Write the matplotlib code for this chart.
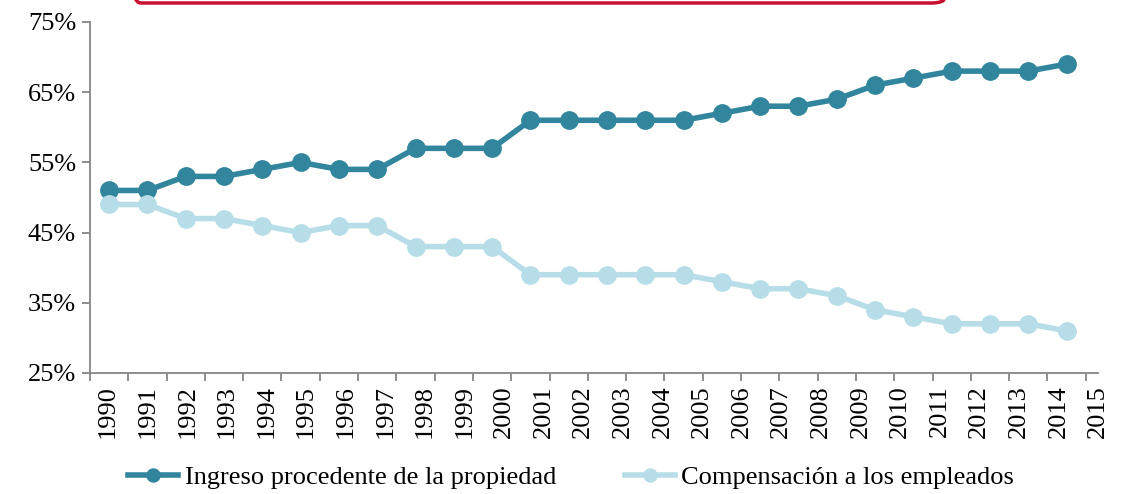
import numpy as np
import matplotlib
matplotlib.use('Agg')
import matplotlib.pyplot as plt
from matplotlib.patches import FancyBboxPatch

years = [str(y) for y in range(1990, 2016)]
ingreso = [51, 51, 53, 53, 54, 55, 54, 54, 57, 57, 57, 61, 61, 61, 61, 61,
           62, 63, 63, 64, 66, 67, 68, 68, 68, 69]
compensacion = [49, 49, 47, 47, 46, 45, 46, 46, 43, 43, 43, 39, 39, 39, 39, 39,
                38, 37, 37, 36, 34, 33, 32, 32, 32, 31]
y_ticks = [25, 35, 45, 55, 65, 75]

plt.rcParams['font.family'] = ['Liberation Serif', 'DejaVu Serif']

dark = '#31859C'
light = '#B7DEE8'
axis_col = '#868686'

fig = plt.figure(figsize=(11.22, 4.94), dpi=100)
ax = fig.add_axes([0.0802, 0.245, 0.8984, 0.7105])

x = np.arange(len(years)) + 0.5
ax.plot(x, ingreso, color=dark, lw=4, marker='o', ms=12.5,
        label='Ingreso procedente de la propiedad')
ax.plot(x, compensacion, color=light, lw=4, marker='o', ms=12.5,
        label='Compensación a los empleados')

ax.set_xlim(0, len(years))
ax.set_ylim(25, 75)
ax.set_yticks(y_ticks)
ax.set_yticklabels([f'{v}%' for v in y_ticks], fontsize=19)

# category boundaries as tick marks, labels spread as in the original
ax.set_xticks(np.arange(len(years) + 1))
ax.set_xticklabels([])
ax.set_xticks(0.47 + 1.034 * np.arange(len(years)), minor=True)
ax.set_xticklabels(years, minor=True, rotation=90, fontsize=19)
ax.tick_params(axis='x', which='minor', length=0, pad=9)
ax.tick_params(axis='x', which='major', length=6, width=1.3, color=axis_col)
ax.tick_params(axis='y', length=6, width=1.3, color=axis_col, pad=4)

for s in ['top', 'right']:
    ax.spines[s].set_visible(False)
for s in ['left', 'bottom']:
    ax.spines[s].set_color(axis_col)
    ax.spines[s].set_linewidth(1.3)

fig.legend(loc='center', bbox_to_anchor=(0.509, 0.033), ncol=2, frameon=False,
           fontsize=19, handlelength=1.9, handletextpad=0.25, columnspacing=2.6,
           markerscale=0.75)

# bottom edge of the title box above the chart
box = FancyBboxPatch((127 / 1122, 1 - 3 / 494), (945 - 127) / 1122, 0.2,
                     boxstyle='round,pad=0,rounding_size=0.012',
                     transform=fig.transFigure, fill=False,
                     edgecolor='#C8102E', lw=2.5, clip_on=False)
fig.patches.append(box)

fig.savefig('out.png', dpi=100)
